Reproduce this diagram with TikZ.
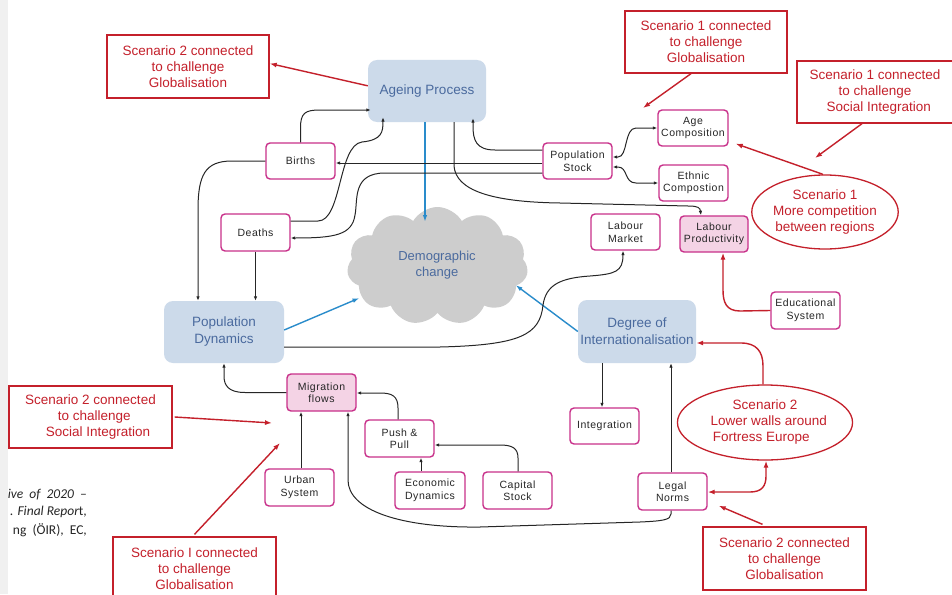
\documentclass[tikz,border=0pt]{standalone}
\usepackage{fontspec}
\setmainfont{Liberation Sans}
\newfontfamily\boxfont[LetterSpace=5]{Liberation Sans}
\newfontfamily\capfont{Carlito}
\usetikzlibrary{arrows.meta,shapes.symbols,shapes.geometric,calc}
\definecolor{scred}{HTML}{C4202B}
\definecolor{pinkb}{HTML}{C8308A}
\definecolor{pinkf}{HTML}{F4D3E5}
\definecolor{bluef}{HTML}{CCDAEA}
\definecolor{bluet}{HTML}{4A6A9E}
\definecolor{arrowblue}{HTML}{2A8CCB}
\definecolor{cloudg}{HTML}{CDCDCD}
\definecolor{stripg}{HTML}{F0F0F0}
\begin{document}
\begin{tikzpicture}[x=1pt,y=-1pt,
  smallbox/.style={draw=pinkb, line width=1.4pt, rounded corners=4pt, fill=white,
    minimum width=69pt, minimum height=36pt, align=center, inner sep=1pt,
    font=\boxfont\fontsize{10.5}{12.5}\selectfont, text=black!85},
  filledbox/.style={smallbox, fill=pinkf},
  bigbox/.style={fill=bluef, rounded corners=9pt, minimum width=118pt, minimum height=62pt,
    align=center, text=bluet, font=\fontsize{13.5}{17}\selectfont, inner sep=0pt},
  scbox/.style={draw=scred, line width=1.3pt, minimum width=162pt, minimum height=63pt,
    align=center, text=scred, font=\fontsize{13.5}{16}\selectfont, inner sep=0pt},
  scell/.style={ellipse, draw=scred, line width=1.3pt, align=center, text=scred,
    font=\fontsize{13.5}{16}\selectfont, inner sep=0pt, minimum width=146pt, minimum height=74pt},
  blk/.style={draw=black!85, line width=1pt, -{Latex[length=4.5pt,width=3.5pt]}},
  blkboth/.style={blk, {Latex[length=4.5pt,width=3.5pt]}-{Latex[length=4.5pt,width=3.5pt]}},
  redarr/.style={draw=scred, line width=1.4pt, -{Latex[length=7pt,width=5pt]}},
  redboth/.style={redarr, {Latex[length=7pt,width=5pt]}-{Latex[length=7pt,width=5pt]}},
  bluearr/.style={draw=arrowblue, line width=1.4pt, -{Latex[length=7pt,width=4.5pt]}},
  captxt/.style={anchor=east, font=\capfont\fontsize{13.5}{16}\selectfont, text=black!85, inner sep=0pt}
]
\useasboundingbox (0,0) rectangle (952,594);
\fill[white] (0,0) rectangle (952,594);
\fill[stripg] (0,0) rectangle (8,594);

% caption fragment
\node[captxt] (cap1) at (87,495) {\itshape ive\ \ of\ \ 2020\ \ –};
\node[captxt] (cap2) at (87,512) {\itshape . Final Repor\upshape t,};
\node[captxt] (cap3) at (87,530) {ng\ \ (ÖIR),\ \ EC,};

% cloud
\node[cloud, cloud puffs=11, cloud puff arc=120, aspect=1.55, fill=cloudg, inner sep=0pt,
  minimum width=181pt, minimum height=118pt] (cloud) at (437.5,266) {};
\node[align=center, text=bluet, font=\fontsize{13}{16.5}\selectfont] (cloudtxt) at (437,265) {Demographic\\change};

% blue boxes
\node[bigbox] (ageing) at (427,91) {Ageing Process};
\node[bigbox, minimum width=120pt] (popdyn) at (224,332) {Population\\Dynamics};
\node[bigbox, minimum height=63pt] (degree) at (637,331.5) {Degree of\\Internationalisation};

% small boxes
\node[smallbox, minimum width=70pt] (agecomp) at (693,128) {Age\\Composition};
\node[smallbox] (ethnic) at (693.5,183) {Ethnic\\Compostion};
\node[smallbox] (popstock) at (577.5,161) {Population\\Stock};
\node[smallbox] (births) at (300.5,161) {Births};
\node[smallbox, minimum height=37pt] (deaths) at (255.5,232.5) {Deaths};
\node[smallbox] (labmkt) at (625.5,232) {Labour\\Market};
\node[filledbox, minimum width=68pt] (labprod) at (714,234) {Labour\\Productivity};
\node[smallbox, minimum height=37pt] (edu) at (805.5,310.5) {Educational\\System};
\node[filledbox, minimum height=37pt] (migr) at (321.5,392.5) {Migration\\flows};
\node[smallbox, minimum height=37pt] (push) at (399.5,438.5) {Push \&\\Pull};
\node[smallbox, minimum height=37pt] (urban) at (299.5,487.5) {Urban\\System};
\node[smallbox, minimum width=70pt, minimum height=37pt] (econ) at (430,490.5) {Economic\\Dynamics};
\node[smallbox, minimum height=37pt] (capital) at (517.5,490.5) {Capital\\Stock};
\node[smallbox] (integ) at (604.5,426) {Integration};
\node[smallbox, minimum height=37pt] (legal) at (672.5,491.5) {Legal\\Norms};

% scenario boxes
\node[scbox] (sc2glob) at (188,66.5) {Scenario 2 connected\\to challenge\\Globalisation};
\node[scbox, minimum height=62pt] (sc1glob) at (706,42) {Scenario 1 connected\\to challenge\\Globalisation};
\node[scbox, minimum width=156pt, minimum height=62pt] (sc1soc) at (875,92) {Scenario 1 connected\\to challenge\\\ \ Social Integration};
\node[scbox, minimum width=163pt, minimum height=62pt] (sc2soc) at (90.5,417) {Scenario 2 connected\\\ \ to challenge\\\ \ \ \ Social Integration};
\node[scbox, minimum width=163pt] (scIglob) at (194.5,568.5) {Scenario I connected\\to challenge\\Globalisation};
\node[scbox, minimum width=163pt] (sc2glob2) at (784.5,558.5) {Scenario 2 connected\\to challenge\\Globalisation};

% ellipses
\node[scell] (ell1) at (825,212) {Scenario 1\\More competition\\between regions};
\node[scell, minimum height=75pt] (ell2) at (765,422.5) {Scenario 2\\\ \ Lower walls around\\Fortress Europe\ \ \ };

% free ends of red pointers
\coordinate (t1) at (643,108);
\coordinate (t2) at (815,158);
\coordinate (t3) at (272,423);
\coordinate (t4) at (280,443);

% red connectors
\draw[redarr] (ageing.175) -- ([yshift=3pt]sc2glob.east);
\draw[redarr] ([xshift=-15pt]sc1glob.south) -- (t1);
\draw[redarr] ([xshift=-13pt]sc1soc.south) -- (t2);
\draw[redarr] ([xshift=-2pt]ell1.north) -- ($(agecomp.south east)+(7,-3)$);
\draw[redarr] (edu.west) -- (740,311) .. controls (726,311) and (723,302) .. (723,290) -- ($(labprod.south)+(9,0)$);
\draw[redarr] ([xshift=-2pt]ell2.north) -- (763,366) .. controls (763,351) and (756,343) .. (741,343) -- ($(degree.east)+(0,11.5)$);
\draw[redboth] ($(legal.east)+(0,0.5)$) -- (750,492) .. controls (762,492) and (766,486) .. (766,476) -- ($(ell2.south)+(1,0)$);
\draw[redarr] ($(sc2glob2.north)+(-22,-2)$) -- ($(legal.south east)+(11,-5)$);
\draw[redarr] ($(sc2soc.east)+(2,0)$) -- (t3);
\draw[redarr] ($(scIglob.north)+(0,-2)$) -- (t4);

% blue connectors
\draw[bluearr] ([xshift=-2pt]ageing.south) -- ($(cloud.center)+(-12.5,-44)$);
\draw[bluearr] ($(popdyn.east)+(0,-2)$) -- ($(cloud.center)+(-78,32)$);
\draw[bluearr] (degree.west) -- ($(cloud.center)+(78,19)$);

% black connectors
\draw[blk] (births.north) -- (300.5,128) .. controls (300.5,113) and (305,110) .. (320,110) -- ($(ageing.west)+(3,19)$);
\draw[blk] ($(deaths.east)+(0,-11.5)$) -- (318,221) .. controls (342,221) and (338,145) .. (362,142) .. controls (382,140) and (383,132) .. ($(ageing.south)+(-44,-5)$);
\draw[blk] ($(popstock.west)+(0,2)$) -- ($(births.east)+(0,2)$);
\draw[blk] ($(popstock.west)+(0,12)$) -- (385,173) .. controls (352,173) and (358,200) .. (355,215) .. controls (352,235) and (335,238) .. ($(deaths.east)+(0,5.5)$);
\draw[blk] (births.west) -- (232,161) .. controls (205,161) and (198,175) .. (198,210) -- ($(popdyn.north)+(-26,0)$);
\draw[blk] (deaths.south) -- (deaths.south |- popdyn.north);
\draw[blk] ($(popstock.west)+(0,-11)$) -- (495,150) .. controls (476,150) and (473,140) .. (473,126) -- ($(ageing.south)+(46,-4)$);
\draw[blk] ($(ageing.south)+(27,0)$) -- (454,166) .. controls (456,190) and (490,202) .. (560,203) -- (688,206) .. controls (699,206) and (700,208) .. ($(labprod.north)+(-13,0)$);
\draw[blkboth] ($(popstock.east)+(0,-4)$) -- (618,157) .. controls (628,157) and (624,128) .. (636,128) -- (agecomp.west);
\draw[blkboth] ($(popstock.east)+(0,6)$) -- (618,167) .. controls (628,167) and (624,183) .. (636,183) -- (ethnic.west);
\draw[blk] ($(popdyn.east)+(0,15)$) -- (440,347) .. controls (520,345) and (540,335) .. (543,305) .. controls (546,285) and (560,278) .. (590,276) .. controls (615,274) and (623,272) .. ($(labmkt.south)+(-2.5,0)$);
\draw[blk] (migr.west) -- (245,392.5) .. controls (228,392.5) and (224,385) .. (224,376) -- (popdyn.south);
\draw[blk] ($(push.north)+(-1.5,0)$) -- (398,408) .. controls (398,396) and (392,393) .. (380,393) -- ($(migr.east)+(0,0.5)$);
\draw[blk] ($(urban.north)+(1.5,0)$) -- ($(migr.south)+(-20.5,0)$);
\draw[blk] ($(econ.north)+(-9,0)$) -- ($(push.south)+(21.5,0)$);
\draw[blk] ($(capital.north)+(0.5,0)$) -- (518,458) .. controls (518,448) and (512,445) .. (500,445) -- ($(push.east)+(0,6.5)$);
\draw[blk] ($(legal.south)+(-1.5,0)$) -- (671,514) .. controls (671,520) and (662,521) .. (640,522) -- (480,527) .. controls (400,528) and (348,510) .. (348,480) -- ($(migr.south)+(26.5,0)$);
\draw[blk] ($(legal.north)+(-1.5,0)$) -- ($(degree.south)+(34,0)$);
\draw[blk] ($(degree.south)+(-35,0)$) -- ($(integ.north)+(-2.5,0)$);
\end{tikzpicture}
\end{document}
